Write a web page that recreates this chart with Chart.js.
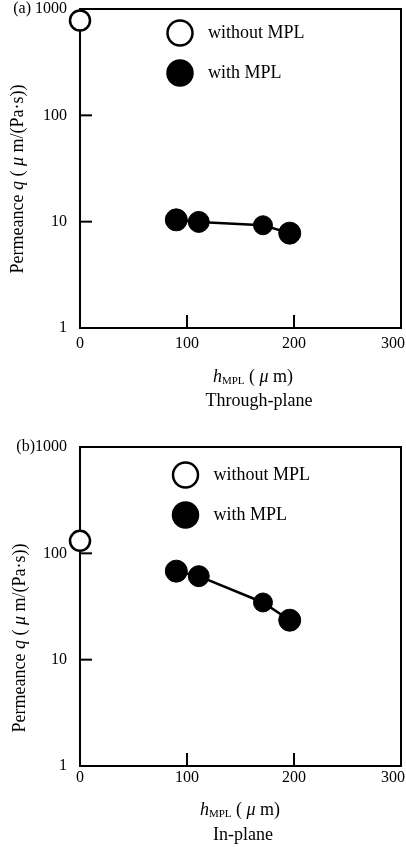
<!DOCTYPE html>
<html>
<head>
<meta charset="utf-8">
<script src="https://cdn.jsdelivr.net/npm/chart.js@4.4.0/dist/chart.umd.min.js"></script>
<style>
  body { margin: 0; background: #fff; }
  canvas { position: absolute; left: 0; }
</style>
</head>
<body>
<canvas id="chartThrough" width="406" height="420" style="top:0"></canvas>
<canvas id="chartIn" width="406" height="427" style="top:420px"></canvas>
<script>
// Permeance vs MPL thickness (um)
const xTicks = [0, 100, 200, 300];
const yTicks = [1, 10, 100, 1000];

const hNoMpl = [0];
const hMpl = [90, 111, 171, 196];

// through-plane
const qThroughWithout = [780];
const qThroughWith = [10.4, 9.95, 9.25, 7.8];

// in-plane
const qInWithout = [131];
const qInWith = [68, 61, 34.5, 23.5];

const serif = '"Liberation Serif", "Times New Roman", serif';

function pts(xs, ys) {
  return xs.map((x, i) => ({ x: x, y: ys[i] }));
}

// draw a row of text pieces (normal / italic / subscript)
function drawRuns(ctx, runs, x, y) {
  let total = 0;
  runs.forEach(r => { ctx.font = r.font; total += ctx.measureText(r.text).width; });
  let cx = x - total / 2;
  ctx.textAlign = 'left';
  ctx.textBaseline = 'middle';
  runs.forEach(r => {
    ctx.font = r.font;
    ctx.fillText(r.text, cx, y + (r.dy || 0));
    cx += ctx.measureText(r.text).width;
  });
}

const N = '18px ' + serif;
const I = 'italic 18px ' + serif;
const S = '11px ' + serif;

const framePlugin = {
  id: 'frame',
  beforeDatasetsDraw(chart, args, o) {
    const ctx = chart.ctx;
    const a = chart.chartArea;
    const xs = chart.scales.x, ys = chart.scales.y;
    ctx.save();
    ctx.strokeStyle = '#000';
    ctx.lineWidth = 2;
    ctx.strokeRect(a.left, a.top, a.right - a.left, a.bottom - a.top);
    // inward tick marks
    ys.ticks.forEach(t => {
      if (t.value === ys.min || t.value === ys.max) return;
      const py = ys.getPixelForValue(t.value);
      ctx.beginPath(); ctx.moveTo(a.left, py); ctx.lineTo(a.left + 12, py); ctx.stroke();
    });
    xs.ticks.forEach(t => {
      if (t.value === xs.min || t.value === xs.max) return;
      const px = xs.getPixelForValue(t.value);
      ctx.beginPath(); ctx.moveTo(px, a.bottom); ctx.lineTo(px, a.bottom - 13); ctx.stroke();
    });
    ctx.restore();
  },
  afterDraw(chart, args, o) {
    const ctx = chart.ctx;
    const a = chart.chartArea;
    const xs = chart.scales.x;
    ctx.save();
    ctx.fillStyle = '#000';

    // x tick labels, kept inside the canvas
    ctx.font = '16px ' + serif;
    ctx.textAlign = 'center';
    ctx.textBaseline = 'middle';
    xs.ticks.forEach(t => {
      const s = String(t.value);
      const w = ctx.measureText(s).width;
      let px = xs.getPixelForValue(t.value);
      px = Math.min(px, chart.width - w / 2 - 1);
      ctx.fillText(s, px, a.bottom + o.xLabelGap);
    });

    // legend
    const order = [1, 0];
    order.forEach((di, k) => {
      const ds = chart.data.datasets[di];
      const cy = a.top + o.legendY + k * 40;
      ctx.beginPath();
      ctx.arc(o.legendX, cy, 12.5, 0, Math.PI * 2);
      ctx.fillStyle = ds.pointBackgroundColor;
      ctx.fill();
      ctx.lineWidth = 2.5;
      ctx.strokeStyle = '#000';
      ctx.stroke();
      ctx.fillStyle = '#000';
      ctx.font = N;
      ctx.textAlign = 'left';
      ctx.textBaseline = 'middle';
      ctx.fillText(ds.label, o.legendX + 28, cy);
    });

    // x axis title + panel name
    drawRuns(ctx, [
      { text: 'h', font: I },
      { text: 'MPL', font: S, dy: 4 },
      { text: ' ( ', font: N },
      { text: 'μ', font: I },
      { text: ' m)', font: N }
    ], o.xTitle[0], o.xTitle[1]);
    drawRuns(ctx, [{ text: o.subtitle, font: N }], o.sub[0], o.sub[1]);

    // y axis title
    ctx.translate(o.yTitle[0], o.yTitle[1]);
    ctx.rotate(-Math.PI / 2);
    drawRuns(ctx, [
      { text: 'Permeance ', font: N },
      { text: 'q', font: I },
      { text: ' ( ', font: N },
      { text: 'μ', font: I },
      { text: ' m/(Pa·s))', font: N }
    ], 0, 0);
    ctx.restore();
  }
};

function makePanel(id, tag, without, withMpl, lay) {
  return new Chart(document.getElementById(id), {
    type: 'scatter',
    data: {
      datasets: [
        {
          label: 'with MPL',
          data: pts(hMpl, withMpl),
          showLine: true,
          borderColor: '#000',
          borderWidth: 2.5,
          pointBackgroundColor: '#000',
          pointBorderColor: '#000',
          pointBorderWidth: 1,
          pointRadius: [11, 10.5, 9.5, 11],
          clip: false
        },
        {
          label: 'without MPL',
          data: pts(hNoMpl, without),
          pointBackgroundColor: '#fff',
          pointBorderColor: '#000',
          pointBorderWidth: 2.5,
          pointRadius: 10,
          clip: false
        }
      ]
    },
    options: {
      responsive: false,
      animation: false,
      events: [],
      layout: { autoPadding: false, padding: { top: lay.top, right: 5, left: 0, bottom: 0 } },
      plugins: {
        legend: { display: false },
        tooltip: { enabled: false },
        frame: lay
      },
      scales: {
        x: {
          type: 'linear',
          min: xTicks[0],
          max: xTicks[xTicks.length - 1],
          afterBuildTicks: s => { s.ticks = xTicks.map(v => ({ value: v })); },
          ticks: { display: false },
          grid: { display: false, drawTicks: false },
          border: { display: false },
          afterFit: s => { s.height = lay.xHeight; s.paddingLeft = 0; s.paddingRight = 0; }
        },
        y: {
          type: 'logarithmic',
          min: yTicks[0],
          max: yTicks[yTicks.length - 1],
          afterBuildTicks: s => { s.ticks = yTicks.map(v => ({ value: v })); },
          ticks: {
            color: '#000',
            padding: 13,
            font: { family: serif, size: 16 },
            callback: v => (v === 1000 ? tag + '1000' : String(v))
          },
          grid: { display: false, drawTicks: false },
          border: { display: false },
          afterFit: s => { s.width = 80; s.paddingTop = 0; s.paddingBottom = 0; }
        }
      }
    },
    plugins: [framePlugin]
  });
}

makePanel('chartThrough', '(a) ', qThroughWithout, qThroughWith, {
  top: 9, xHeight: 92, xLabelGap: 16,
  legendX: 180, legendY: 24,
  xTitle: [253, 377], sub: [259, 401], yTitle: [18, 179],
  subtitle: 'Through-plane'
});

makePanel('chartIn', '(b)', qInWithout, qInWith, {
  top: 27, xHeight: 81, xLabelGap: 12,
  legendX: 185.5, legendY: 28,
  xTitle: [240, 390], sub: [243, 415], yTitle: [20, 218],
  subtitle: 'In-plane'
});
</script>
</body>
</html>
